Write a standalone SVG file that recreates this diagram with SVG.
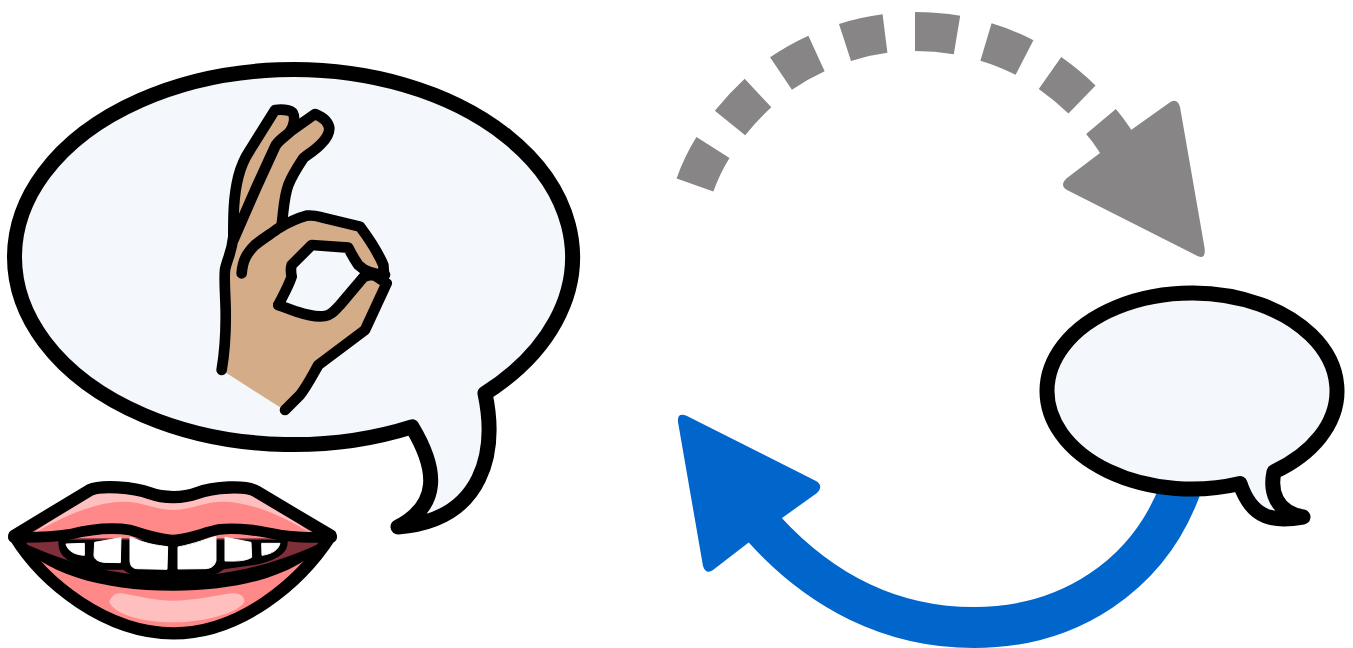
<svg xmlns="http://www.w3.org/2000/svg" width="1353" height="648" viewBox="0 0 1353 648">
<style>
.bubble{fill:#F4F8FD;stroke:#000;stroke-width:15;stroke-linejoin:round;stroke-linecap:round}
.ink{fill:none;stroke:#000;stroke-linejoin:round;stroke-linecap:round}
.gray{fill:#888586}
.blue{fill:#0066CC}
</style>
<rect width="1353" height="648" fill="#fff"/>
<g id="connectors">
<g id="connector-gray">
<path d="M695 185Q702 165 713 147.500M730 123Q743 107 758 93M781 73.500Q798 62 816.500 53.500M845 42.500Q865 36 885 33.500M915 31.500Q936 31.500 957 35M986 42Q1006 48 1024.500 57.500M1050 73Q1067 85 1082 99.500M1101 121.500Q1115 138 1125 158" fill="none" stroke="#888586" stroke-width="39"/>
<path class="gray" d="M1197.500 256L1067 190Q1059 185 1067 178L1100 153L1131 130L1169 103Q1177 97 1180 107L1204.600 248Q1206 260 1197.500 256Z"/>
</g>
<g id="connector-blue">
<path d="M1187 470L1180 490C1148 575 1070 627.500 974 627.500C890 627.500 820 590 765 530L745 508" fill="none" stroke="#0066CC" stroke-width="41"/>
<path class="blue" d="M687 416L816 481Q824 486 817 493L782 518L748 543L713 570Q706 575 703 566L678 422Q677 412 687 416Z"/>
</g>
</g>
<g id="bubble-large">
<path class="bubble" d="M412 426.800A279 187.500 0 0 1 14.500 257A279 187.500 0 1 1 485 393.400C497 450 485 520 398 527C440 505 438 470 412 426.800Z"/>
</g>
<g id="hand" transform="translate(200 90) scale(.33333)">
<path fill="#D4AC88" fill-rule="evenodd" d="M65 840L78 720L75 540L100 470L100 400L115 260L150 180L225 60L270 65L285 85L270 125L345 72L385 105L385 125L360 165L310 205L270 270L250 320L245 400L320 377L350 378L480 410L545 525L560 580L495 720L355 825L300 915L245 955ZM235 645L275 560L275 525L335 465L445 473L475 525L510 555L490 560L405 660L365 678L290 665Z"/>
<g class="ink" stroke-width="32">
<path d="M65 840C75 780 78 720 77 660C76 610 72 570 75 540C80 510 95 490 100 440C100 380 100 320 115 260C125 220 140 195 150 180L225 60C245 58 268 60 278 68C288 85 280 110 270 125C250 145 235 150 225 170L170 290L100 450"/>
<path d="M270 125L345 72C365 80 385 95 388 115C388 140 370 155 360 165C340 185 320 195 310 205C290 235 275 260 265 285C252 320 252 350 245 405"/>
<path d="M125 550C128 510 140 490 165 465C190 445 215 430 235 415C260 400 290 385 320 377C340 375 350 378 365 382L480 410C510 450 535 490 550 525L552 552"/>
<path d="M235 645C250 615 265 590 275 560C272 545 272 535 275 525L335 465L445 473C455 495 465 510 475 525C490 540 510 552 555 555"/>
<path d="M235 645L290 665C320 675 350 682 375 678C395 675 405 660 420 645L490 562C500 555 520 552 530 560L560 580L495 720L355 825C335 860 320 890 300 915L255 960"/>
</g>
</g>
<g id="mouth" transform="translate(0 470) scale(.33333)">
<path id="lip-base" fill="#FF8888" d="M43 197L270 60C300 45 400 50 450 70C490 85 550 85 590 70C640 50 740 45 770 65L992 197C900 340 720 490 520 490C320 490 130 340 43 197Z"/>
<path fill="#FFBFBF" d="M95 195L270 60C300 45 400 50 450 70C490 85 550 85 590 70C640 50 740 45 770 65L940 195C840 130 740 95 670 95C610 95 570 120 520 120C470 120 430 95 370 95C300 95 200 130 95 195Z"/>
<path fill="#FFBFBF" d="M328 395C335 375 350 368 365 370C420 380 470 392 520 392C580 392 640 378 695 370C720 368 735 380 733 395C720 425 620 457 520 457C420 457 340 430 328 395Z"/>
<path fill="#7F2F3A" d="M60 205L980 205L880 290L520 345L170 290Z"/>
<path fill="#000" stroke="#000" stroke-width="6" stroke-linejoin="round" d="M178 212L860 212C862 240 845 262 775 280L670 295C650 310 630 320 600 322L440 322C410 318 390 312 370 296L290 296C265 290 240 280 205 268C185 255 178 240 178 212Z"/>
<g fill="#fff" stroke="#fff" stroke-linejoin="round" stroke-width="3">
<path d="M198 222L253 220L253 256C225 254 205 245 198 222Z"/>
<path d="M284 217L363 203L361 278L312 277C295 275 282 268 282 255Z"/>
<path d="M390 202C415 208 430 222 503 230L501 298L410 296C395 294 390 285 390 270Z"/>
<path d="M534 231C590 220 620 205 648 200L648 272C645 285 635 296 615 296L534 297Z"/>
<path d="M675 202L753 217L755 262C740 272 715 274 675 273Z"/>
<path d="M785 220L840 220C835 240 815 252 786 256Z"/>
</g>
<path class="ink" stroke-width="32" d="M40 202C90 203 150 203 210 193C270 178 340 172 390 180C430 193 480 210 520 210C560 210 610 188 660 178C720 172 780 183 840 195C890 203 950 203 995 202"/>
<path fill="#000" d="M35 200C130 250 300 320 520 320C740 320 900 250 1000 200C900 310 740 362 520 362C300 362 130 310 35 200Z"/>
<path class="ink" stroke-width="37" d="M43 197L270 60C300 45 400 50 450 70C490 85 550 85 590 70C640 50 740 45 770 65L992 197C900 340 720 490 520 490C320 490 130 340 43 197Z"/>
</g>
<g id="bubble-small">
<path class="bubble" d="M1240 483.500A145 98 0 0 1 1047 391A145 98 0 1 1 1274 471.800C1270 490 1275 512 1303 517C1275 522 1252 520 1240 483.500Z"/>
</g>
</svg>
